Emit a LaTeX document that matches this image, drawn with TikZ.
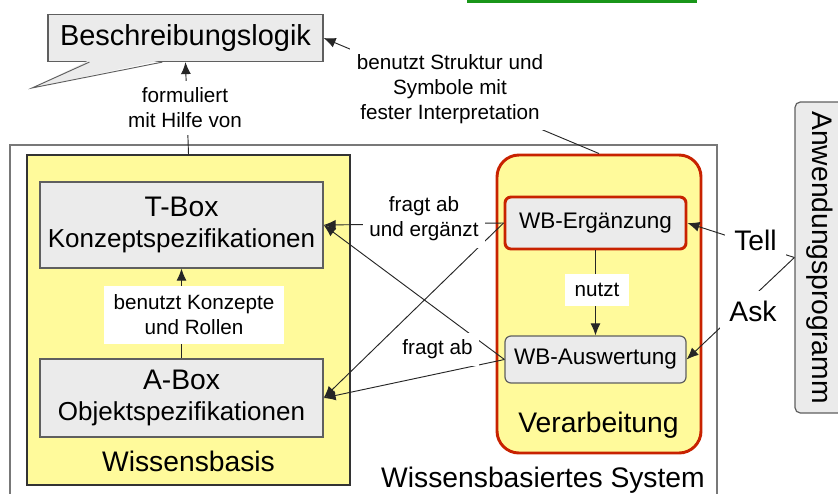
\documentclass[tikz,border=0pt]{standalone}
\usepackage{fontspec}
\setmainfont{Liberation Sans}
\usepackage{xcolor}
\definecolor{wbYellow}{RGB}{255,250,155}
\definecolor{boxGray}{RGB}{235,235,235}
\definecolor{procRed}{RGB}{200,34,0}
\definecolor{lineGray}{RGB}{95,95,95}
\definecolor{frameGray}{RGB}{120,120,120}
\definecolor{slideGreen}{RGB}{25,150,25}
\usepackage{tikz}
\usetikzlibrary{arrows.meta,positioning,calc}
\newcommand{\grossschrift}{\fontsize{21.2}{25.5}\selectfont}
\tikzstyle{grosstext}=[font=\fontsize{21.2}{25.5}\selectfont]
\tikzstyle{mitteltext}=[font=\fontsize{19.5}{23.25}\selectfont]
\tikzstyle{grundbox}=[draw=lineGray, line width=0.9pt, fill=boxGray, align=center]
\tikzstyle{wissbox}=[draw=black!80, line width=1.1pt, fill=wbYellow, minimum width=242.25pt, minimum height=247.5pt]
\tikzstyle{verarbbox}=[draw=procRed, line width=2.2pt, fill=wbYellow, rounded corners=16.5pt, minimum width=153pt, minimum height=223.5pt]
\tikzstyle{wbbox}=[grundbox, rounded corners=4.5pt, minimum width=135.75pt, font=\fontsize{16.9}{20}\selectfont]
\tikzstyle{beschriftung}=[fill=white, inner sep=5pt, align=center, font=\fontsize{15.5}{18.75}\selectfont]
\tikzstyle{pfeil}=[->, >={Latex[length=9pt,width=7.5pt]}, line width=0.7pt, color=black!85]

\begin{document}
\begin{tikzpicture}[x=0.75pt, y=-0.75pt]
    \useasboundingbox (0,0) rectangle (838,493);
    % Linie am oberen Rand
    \draw[slideGreen, line width=2.25pt] (467,1.2) -- (697,1.2);

    % Beschreibungslogik mit Sprechblase
    \node[grundbox, minimum width=206.25pt, minimum height=35.25pt, font=\fontsize{21.7}{26}\selectfont] (logik) at (185.5,38) {Beschreibungslogik};
    \coordinate (spitze) at (32,88);
    \fill[boxGray] ($(logik.south west)+(42,-2)$) -- (spitze) -- ($(logik.south west)+(115,-2)$) -- cycle;
    \draw[lineGray, line width=0.7pt] ($(logik.south west)+(42,0)$) -- (spitze) -- ($(logik.south west)+(115,0)$);

    % Wissensbasiertes System
    \node[draw=frameGray, line width=1.1pt, minimum width=530.25pt, minimum height=311.25pt] (system) at (363.5,352.5) {};
    \node[grosstext, anchor=base] (systemtext) at (543,487) {Wissensbasiertes System};

    % Wissensbasis
    \node[wissbox] (wb) at (188.5,320) {};
    \node[grosstext, anchor=base] (wbtext) at (188.5,471) {Wissensbasis};
    \node[grundbox, mitteltext, minimum width=212.25pt, minimum height=64.5pt] (tbox) at (181.5,225) {{\grossschrift T-Box}\\Konzeptspezifikationen};
    \node[grundbox, mitteltext, minimum width=212.25pt, minimum height=58.5pt] (abox) at (181.5,398) {{\grossschrift A-Box}\\Objektspezifikationen};

    % Verarbeitung
    \node[verarbbox] (proc) at (599,304) {};
    \node[grosstext, anchor=base] (proctext) at (598.5,432) {Verarbeitung};
    \node[wbbox, draw=procRed, line width=2.2pt, minimum height=39pt] (erg) at (595.5,223) {WB-Ergänzung};
    \node[wbbox, minimum height=35.25pt] (ausw) at (595.5,359.5) {WB-Auswertung};

    % Anwendungsprogramm
    \node[grundbox, grosstext, rounded corners=4pt, rotate=-90, minimum width=233.25pt, minimum height=37.5pt] (anw) at (820,257.5) {Anwendungsprogramm};

    % Verbindungen
    \draw[pfeil] (wb.north) -- (logik.south);
    \draw[pfeil] (proc.north) -- (logik.east);
    \draw[pfeil] (abox.north) -- (tbox.south);
    \draw[pfeil] (erg.south) -- (ausw.north);
    \draw[pfeil] (erg.west) -- (tbox.east);
    \draw[pfeil] (erg.west) -- (abox.east);
    \draw[pfeil] (ausw.west) -- (tbox.east);
    \draw[pfeil] (ausw.west) -- (abox.east);
    \draw[pfeil] (anw.south) -- (erg.east);
    \draw[pfeil] (anw.south) -- (ausw.east);

    % Beschriftungen
    \node[beschriftung] (formuliert) at (185,108) {formuliert\\mit Hilfe von};
    \node[beschriftung] (struktur) at (450,89) {benutzt Struktur und\\Symbole mit\\fester Interpretation};
    \node[beschriftung, inner sep=7pt] (konzepte) at (194,315) {benutzt Konzepte\\und Rollen};
    \node[beschriftung] (ergaenzt) at (424,219) {fragt ab\\und ergänzt};
    \node[beschriftung] (fragtab) at (437.5,349.5) {fragt ab};
    \node[beschriftung, inner sep=7pt] (nutzt) at (597,290) {nutzt};
    \node[beschriftung, grosstext, inner sep=7pt] (tell) at (755.5,240) {Tell};
    \node[beschriftung, grosstext, inner sep=7pt] (ask) at (753,311) {Ask};
\end{tikzpicture}
\end{document}
